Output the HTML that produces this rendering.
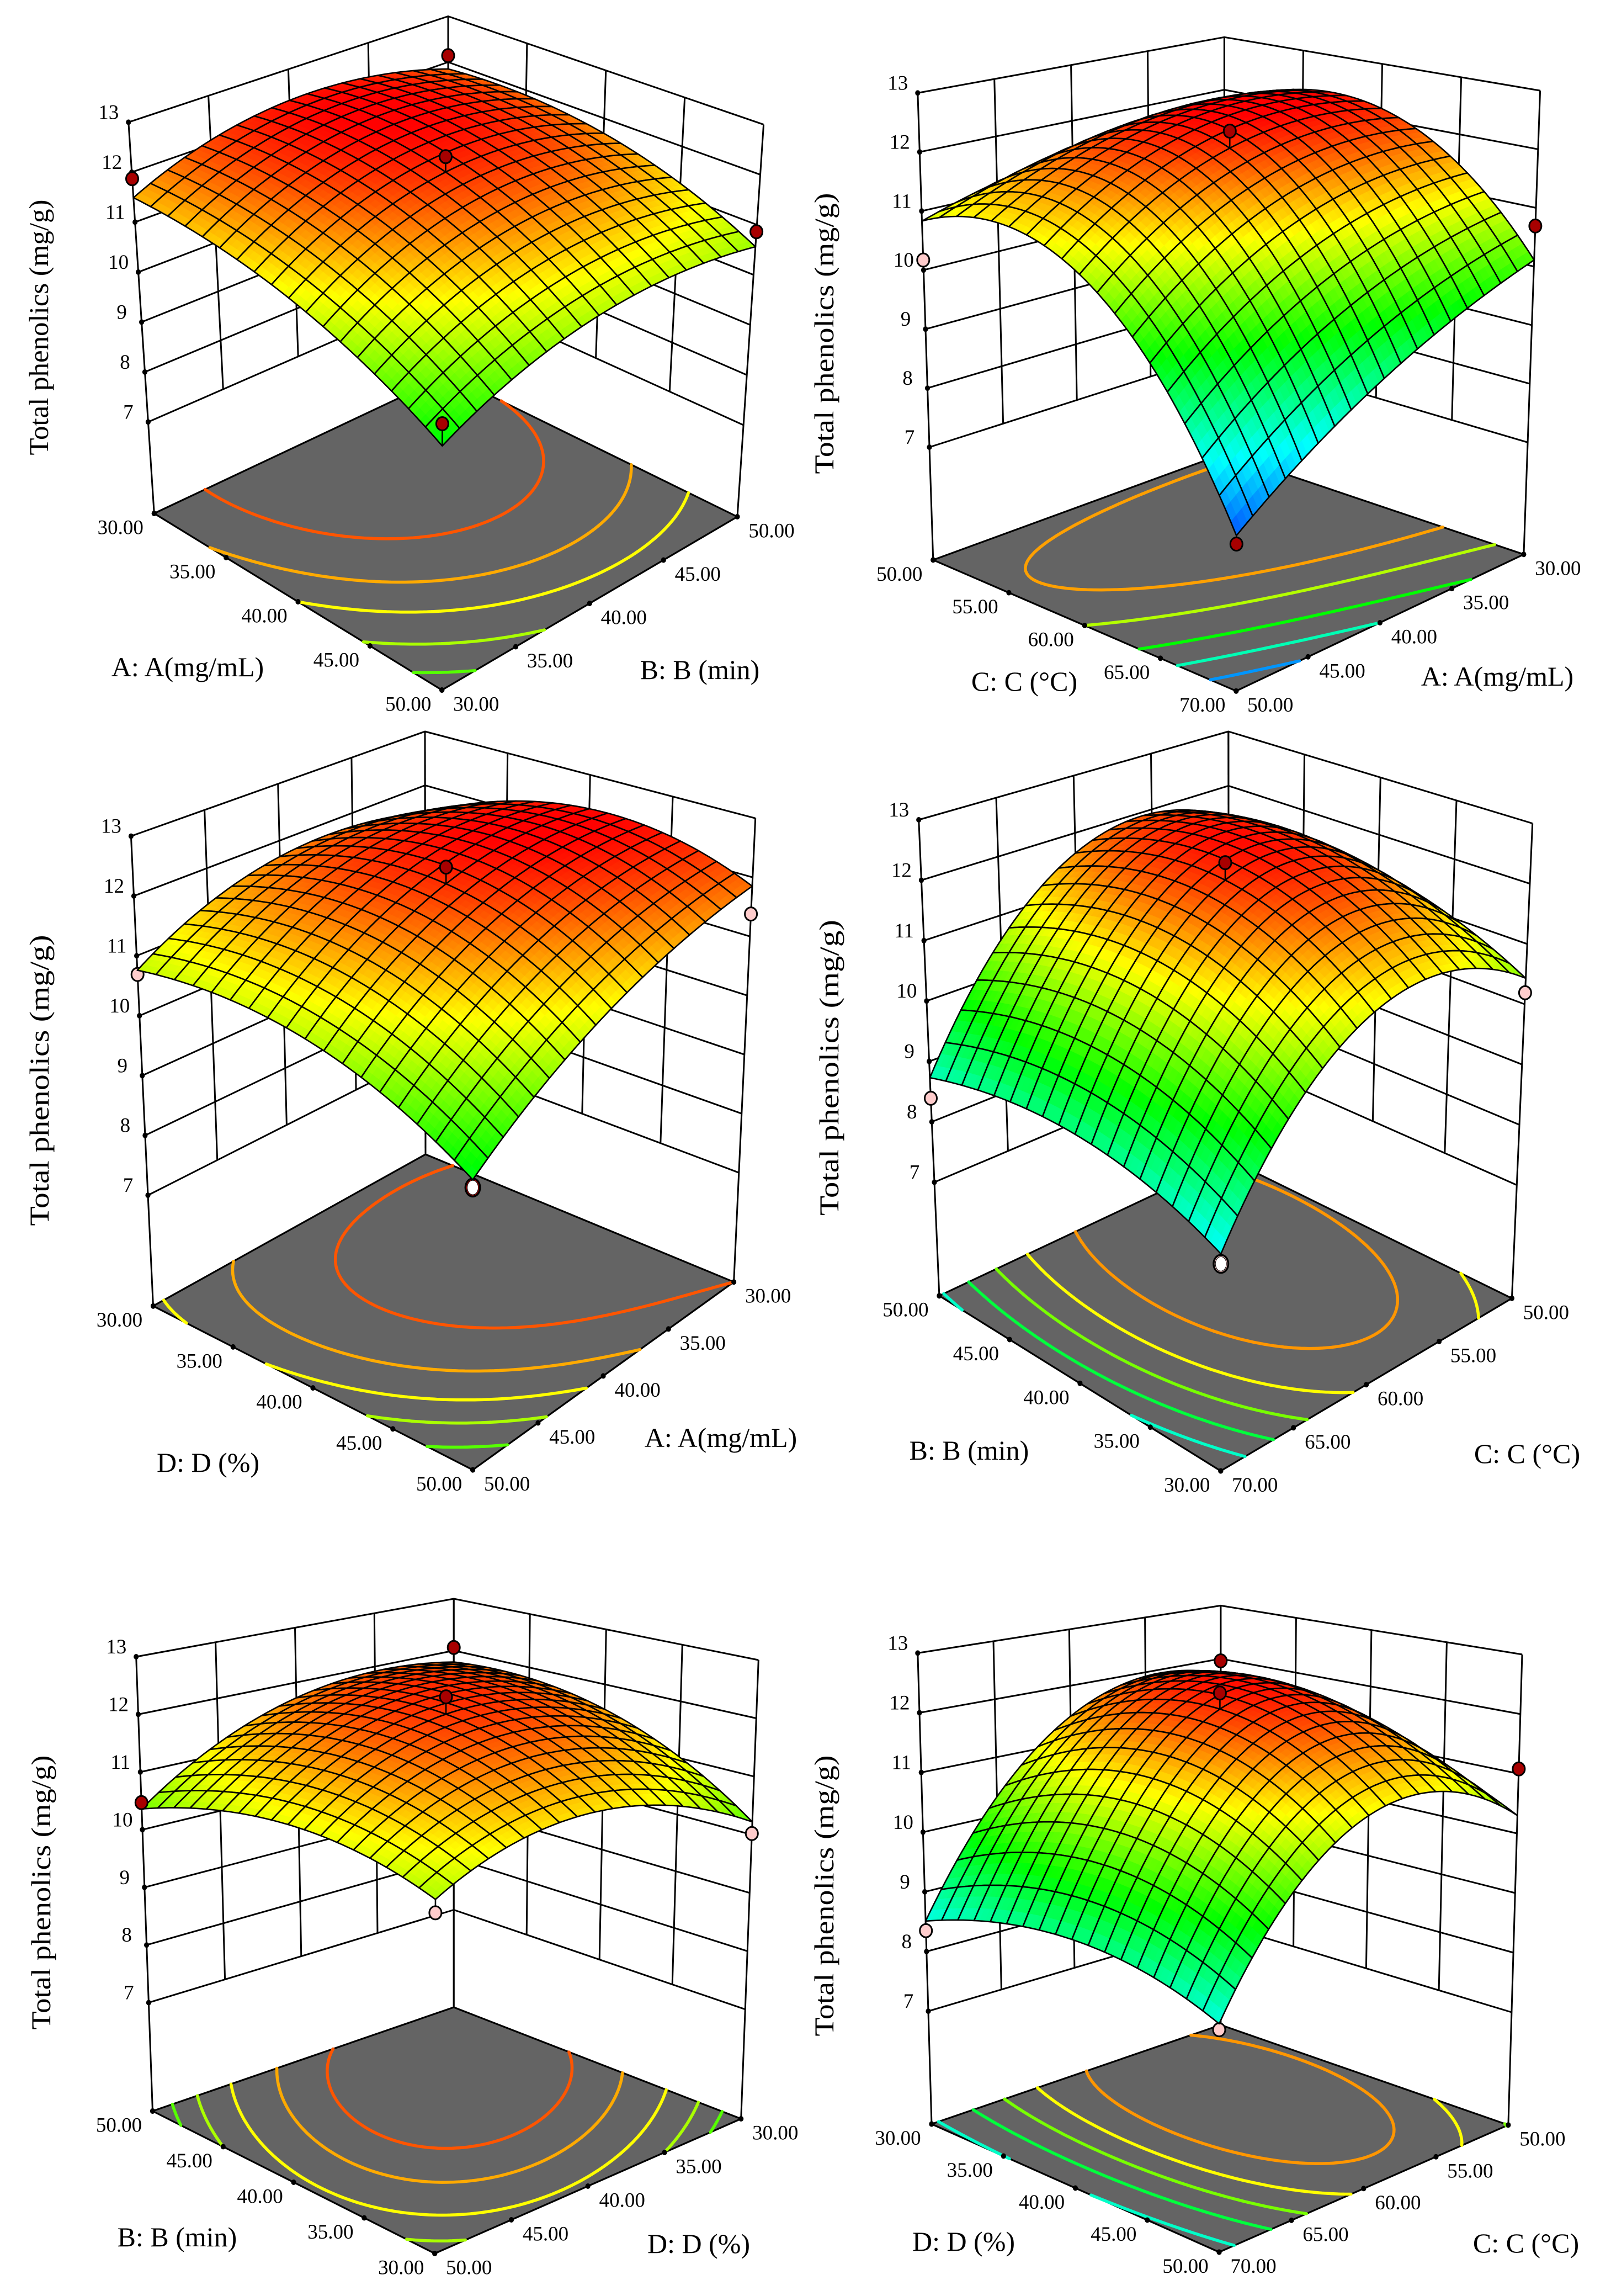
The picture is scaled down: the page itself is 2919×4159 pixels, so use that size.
<!DOCTYPE html>
<html lang="en">
<head>
<meta charset="utf-8">
<title>Total phenolics response surfaces</title>
<style>
html,body{margin:0;padding:0;background:#fff}
svg{display:block}
text{font-family:"Liberation Serif",serif;fill:#000}
.t{font-size:50px;text-anchor:middle}
</style>
</head>
<body>
<svg id="figure" xmlns="http://www.w3.org/2000/svg" width="2919" height="4159" viewBox="0 0 2919 4159">
<rect width="2919" height="4159" fill="#fff"/>
<g id="plots"></g>
<g>
<text class="t" x="72" y="608" textLength="463" lengthAdjust="spacingAndGlyphs" transform="rotate(-90 72 593)">Total phenolics (mg/g)</text>
<text class="t" x="340" y="1225">A: A(mg/mL)</text>
<text class="t" x="1268" y="1230">B: B (min)</text>
<text class="t" x="1495" y="619" textLength="509" lengthAdjust="spacingAndGlyphs" transform="rotate(-90 1495 604)">Total phenolics (mg/g)</text>
<text class="t" x="1856" y="1251">C: C (°C)</text>
<text class="t" x="2713" y="1242">A: A(mg/mL)</text>
<text class="t" x="73" y="1972" textLength="527" lengthAdjust="spacingAndGlyphs" transform="rotate(-90 73 1957)">Total phenolics (mg/g)</text>
<text class="t" x="377" y="2666">D: D (%)</text>
<text class="t" x="1306" y="2621">A: A(mg/mL)</text>
<text class="t" x="1504" y="1949" textLength="536" lengthAdjust="spacingAndGlyphs" transform="rotate(-90 1504 1934)">Total phenolics (mg/g)</text>
<text class="t" x="1756" y="2644">B: B (min)</text>
<text class="t" x="2767" y="2650">C: C (°C)</text>
<text class="t" x="76" y="3443" textLength="497" lengthAdjust="spacingAndGlyphs" transform="rotate(-90 76 3428)">Total phenolics (mg/g)</text>
<text class="t" x="321" y="4069">B: B (min)</text>
<text class="t" x="1266" y="4081">D: D (%)</text>
<text class="t" x="1495" y="3449" textLength="509" lengthAdjust="spacingAndGlyphs" transform="rotate(-90 1495 3434)">Total phenolics (mg/g)</text>
<text class="t" x="1746" y="4077">D: D (%)</text>
<text class="t" x="2765" y="4080">C: C (°C)</text>
</g>
</svg>
<script>
// ---------- chart data ----------
const zTicks = [7, 8, 9, 10, 11, 12, 13];
const zTickLabels = ['7', '8', '9', '10', '11', '12', '13'];

const panel1LeftTicks = ['30.00', '35.00', '40.00', '45.00', '50.00'];
const panel1RightTicks = ['30.00', '35.00', '40.00', '45.00', '50.00'];
const panel2LeftTicks = ['50.00', '55.00', '60.00', '65.00', '70.00'];
const panel2RightTicks = ['50.00', '45.00', '40.00', '35.00', '30.00'];
const panel3LeftTicks = ['30.00', '35.00', '40.00', '45.00', '50.00'];
const panel3RightTicks = ['50.00', '45.00', '40.00', '35.00', '30.00'];
const panel4LeftTicks = ['50.00', '45.00', '40.00', '35.00', '30.00'];
const panel4RightTicks = ['70.00', '65.00', '60.00', '55.00', '50.00'];
const panel5LeftTicks = ['50.00', '45.00', '40.00', '35.00', '30.00'];
const panel5RightTicks = ['50.00', '45.00', '40.00', '35.00', '30.00'];
const panel6LeftTicks = ['30.00', '35.00', '40.00', '45.00', '50.00'];
const panel6RightTicks = ['70.00', '65.00', '60.00', '55.00', '50.00'];

// response read at low / mid / high of each factor (rows: left axis, columns: right axis)
const panel1Surface = [[11.49, 12.35, 11.85], [11.00, 12.20, 11.69], [9.67, 10.69, 10.56]];
const panel2Surface = [[10.83, 11.48, 11.72], [10.75, 12.17, 12.20], [7.48, 9.04, 10.11]];
const panel3Surface = [[10.76, 11.72, 11.50], [10.74, 12.20, 12.40], [9.61, 11.07, 11.85]];
const panel4Surface = [[8.73, 11.65, 11.42], [9.05, 12.18, 11.37], [8.39, 11.00, 10.43]];
const panel5Surface = [[10.36, 11.72, 11.78], [11.00, 12.17, 11.55], [10.65, 11.24, 10.22]];
const panel6Surface = [[8.51, 11.46, 11.72], [9.06, 12.19, 11.31], [8.56, 11.04, 10.30]];

const panel1Floor = [[11.49, 12.19, 11.85], [11.00, 11.92, 11.60], [9.67, 10.69, 10.56]];
const panel2Floor = [[10.60, 10.85, 10.90], [10.50, 11.20, 11.40], [7.48, 9.00, 10.11]];
const panel3Floor = [[10.70, 11.35, 11.45], [10.66, 11.75, 11.95], [9.67, 10.90, 11.60]];
const panel4Floor = [[8.73, 10.45, 10.30], [8.92, 10.60, 10.28], [8.39, 10.07, 9.75]];
const panel5Floor = [[9.99, 11.15, 11.30], [10.64, 11.39, 11.15], [10.29, 10.64, 9.99]];
const panel6Floor = [[8.64, 10.30, 10.18], [8.77, 10.50, 10.22], [8.50, 10.09, 9.68]];

const panel1Levels = [11.85, 11.4, 11.0, 10.5, 10.0];
const panel2Levels = [11.03, 10.5, 9.75, 9.0, 8.2];
const panel3Levels = [11.6, 11.15, 10.77, 10.43, 10.05];
const panel4Levels = [10.4, 10.0, 9.63, 9.23, 8.81];
const panel5Levels = [11.26, 11.02, 10.72, 10.44, 10.2];
const panel6Levels = [10.35, 10.03, 9.7, 9.3, 8.76];

// contour stroke colours, inner to outer
const warmContourColors = ['#ff5500', '#ffaa00', '#ffff00', '#aaff00', '#55ff00'];
const coolContourColors = ['#ffa000', '#b4ff00', '#00ff00', '#00ffb4', '#0096ff'];
const midContourColors = ['#ff9600', '#ffff00', '#78ff00', '#00ff3c', '#00ffc8'];

// design points: left-axis fraction, right-axis fraction, response, kind
const panel1Points = [[0, 1, 12.14, 'above'], [0, 0, 11.87, 'above'], [1, 1, 10.86, 'above'], [1, 0, 10.08, 'above'], [0.5, 0.5, 12.51, 'above']];
const panel2Points = [[1, 0, 7.35, 'above'], [0, 0, 10.17, 'below'], [1, 1, 10.69, 'above'], [0.5, 0.5, 12.46, 'above']];
const panel3Points = [[0, 0, 10.69, 'below'], [1, 1, 11.38, 'below'], [1, 0, 9.49, 'ring-red'], [0.5, 0.5, 12.48, 'above']];
const panel4Points = [[0, 0, 8.39, 'below'], [1, 1, 10.19, 'below'], [1, 0, 8.24, 'ring-pink'], [0.5, 0.5, 12.47, 'above']];
const panel5Points = [[0, 1, 12.06, 'above'], [0, 0, 10.47, 'above'], [1, 1, 10.02, 'below'], [1, 0, 10.44, 'below'], [0.5, 0.5, 12.47, 'above']];
const panel6Points = [[0, 1, 11.96, 'above'], [0, 0, 8.35, 'below'], [1, 1, 11.08, 'above'], [1, 0, 8.47, 'below'], [0.5, 0.5, 12.46, 'above']];

// colour ramp anchors of the response scale (blue, cyan, green, yellow, red)
const rampValues = [7.05, 8.4, 9.75, 11.1, 12.45];

// ---------- layout (separate from the data) ----------
const frames = [
  {FL:[279.3,930],FF:[800.7,1250],FR:[1336,936],FB:[812,679],TL:[232.8,221.4],TB:[812,29.5],TR:[1383.6,225.6],zf:5.17},
  {FL:[1690.8,1014.3],FF:[2239.8,1251.7],FR:[2760.9,1004.2],FB:[2218.4,821.5],TL:[1662.8,168.4],TB:[2218.4,67.3],TR:[2790.6,164.1],zf:5.09},
  {FL:[277.5,2365.7],FF:[856.6,2662.6],FR:[1329.6,2322.2],FB:[771,2091],TL:[237.4,1514.6],TB:[770,1325],TR:[1368.7,1482.2],zf:5.15},
  {FL:[1701.9,2347.2],FF:[2211.8,2664.5],FR:[2739.4,2351.8],FB:[2226.7,2100.2],TL:[1664.7,1485],TB:[2225.8,1325],TR:[2776.7,1491.5],zf:5.12},
  {FL:[276.5,3824],FF:[787.7,4082],FR:[1342.7,3838],FB:[822.2,3636],TL:[246.7,3001],TB:[822.2,2896],TR:[1374.3,3007],zf:5.12},
  {FL:[1688,3847.5],FF:[2209,4079.5],FR:[2732.9,3849.2],FB:[2211.8,3668],TL:[1662.8,2994.4],TB:[2211.8,2908.4],TR:[2758,2996.9],zf:5.11}
];
const panels = [
  {surface:panel1Surface,floor:panel1Floor,levels:panel1Levels,colors:warmContourColors,points:panel1Points,left:panel1LeftTicks,right:panel1RightTicks},
  {surface:panel2Surface,floor:panel2Floor,levels:panel2Levels,colors:coolContourColors,points:panel2Points,left:panel2LeftTicks,right:panel2RightTicks},
  {surface:panel3Surface,floor:panel3Floor,levels:panel3Levels,colors:warmContourColors,points:panel3Points,left:panel3LeftTicks,right:panel3RightTicks},
  {surface:panel4Surface,floor:panel4Floor,levels:panel4Levels,colors:midContourColors,points:panel4Points,left:panel4LeftTicks,right:panel4RightTicks},
  {surface:panel5Surface,floor:panel5Floor,levels:panel5Levels,colors:warmContourColors,points:panel5Points,left:panel5LeftTicks,right:panel5RightTicks},
  {surface:panel6Surface,floor:panel6Floor,levels:panel6Levels,colors:midContourColors,points:panel6Points,left:panel6LeftTicks,right:panel6RightTicks}
];
const MESH = 18, SUB = 3, CONTOUR_GRID = 80;
const SVGNS = 'http://www.w3.org/2000/svg';
const rampColors = [[0,0,255],[0,255,255],[0,255,0],[255,255,0],[255,0,0]];

function make(tag, parent) {
  const el = document.createElementNS(SVGNS, tag);
  parent.appendChild(el);
  return el;
}
function fmt(p) { return p[0].toFixed(1) + ' ' + p[1].toFixed(1); }
function colorOf(z) {
  const v = rampValues;
  if (z <= v[0]) return 'rgb(0,0,255)';
  if (z >= v[4]) return 'rgb(255,0,0)';
  let i = 0;
  while (z > v[i + 1]) i++;
  const f = (z - v[i]) / (v[i + 1] - v[i]);
  const a = rampColors[i], b = rampColors[i + 1];
  return 'rgb(' + Math.round(a[0] + (b[0] - a[0]) * f) + ',' + Math.round(a[1] + (b[1] - a[1]) * f) + ',' + Math.round(a[2] + (b[2] - a[2]) * f) + ')';
}
function basis(u) {
  return [2 * (u - 0.5) * (u - 1), -4 * u * (u - 1), 2 * u * (u - 0.5)];
}
function responseAt(G, s, t) {
  const a = basis(s), b = basis(t);
  let z = 0;
  for (let i = 0; i < 3; i++) for (let j = 0; j < 3; j++) z += G[i][j] * a[i] * b[j];
  return z;
}
function projector(f) {
  const vL = [f.TL[0] - f.FL[0], f.TL[1] - f.FL[1]];
  const vR = [f.TR[0] - f.FR[0], f.TR[1] - f.FR[1]];
  const vB = [f.TB[0] - f.FB[0], f.TB[1] - f.FB[1]];
  const vF = [vL[0] + vR[0] - vB[0], vL[1] + vR[1] - vB[1]];
  const span = 13 - f.zf;
  return function (s, t, z) {
    const w00 = (1 - s) * (1 - t), w10 = s * (1 - t), w11 = s * t, w01 = (1 - s) * t;
    const k = (z - f.zf) / span;
    return [
      w00 * f.FL[0] + w10 * f.FF[0] + w11 * f.FR[0] + w01 * f.FB[0] + k * (w00 * vL[0] + w10 * vF[0] + w11 * vR[0] + w01 * vB[0]),
      w00 * f.FL[1] + w10 * f.FF[1] + w11 * f.FR[1] + w01 * f.FB[1] + k * (w00 * vL[1] + w10 * vF[1] + w11 * vR[1] + w01 * vB[1])
    ];
  };
}
function drawLine(parent, pts, width, name) {
  const el = make('path', parent);
  
  
  el.setAttribute('d', 'M' + pts.map(fmt).join('L'));
  el.setAttribute('fill', 'none');
  el.setAttribute('stroke', '#000');
  el.setAttribute('stroke-width', width);
  el.setAttribute('stroke-linejoin', 'round');
}
function drawWalls(g, P, f) {
  zTicks.forEach(function (z) {
    drawLine(g, [P(0, 0, z), P(0, 1, z), P(1, 1, z)], 3, 'wall-gridline-z-' + z);
  });
  for (let k = 0; k <= 4; k++) {
    const edge = k === 0 || k === 4;
    const zb = edge ? f.zf : zTicks[0];
    drawLine(g, [P(0, k / 4, zb), P(0, k / 4, 13)], 3, 'left-wall-gridline');
    drawLine(g, [P(k / 4, 1, zb), P(k / 4, 1, 13)], 3, 'right-wall-gridline');
  }
}
function drawFloor(g, f) {
  const el = make('polygon', g);
  
  
  el.setAttribute('points', [f.FL, f.FF, f.FR, f.FB].map(function (p) { return p[0] + ',' + p[1]; }).join(' '));
  el.setAttribute('fill', '#646464');
  el.setAttribute('stroke', '#000');
  el.setAttribute('stroke-width', 3.2);
  el.setAttribute('stroke-linejoin', 'round');
}
function drawContour(g, P, G, level, color, f) {
  const n = CONTOUR_GRID;
  const val = [];
  for (let i = 0; i <= n; i++) {
    val.push([]);
    for (let j = 0; j <= n; j++) val[i].push(responseAt(G, i / n, j / n));
  }
  let d = '';
  function cross(a, b, sa, ta, sb, tb) {
    const u = (level - a) / (b - a);
    return P(sa + (sb - sa) * u, ta + (tb - ta) * u, f.zf);
  }
  for (let i = 0; i < n; i++) {
    for (let j = 0; j < n; j++) {
      const s0 = i / n, s1 = (i + 1) / n, t0 = j / n, t1 = (j + 1) / n;
      const a = val[i][j], b = val[i + 1][j], c = val[i + 1][j + 1], e = val[i][j + 1];
      const hits = [];
      if ((a < level) !== (b < level)) hits.push(cross(a, b, s0, t0, s1, t0));
      if ((b < level) !== (c < level)) hits.push(cross(b, c, s1, t0, s1, t1));
      if ((c < level) !== (e < level)) hits.push(cross(c, e, s1, t1, s0, t1));
      if ((e < level) !== (a < level)) hits.push(cross(e, a, s0, t1, s0, t0));
      for (let h = 0; h + 1 < hits.length; h += 2) d += 'M' + fmt(hits[h]) + 'L' + fmt(hits[h + 1]);
    }
  }
  if (!d) return;
  const el = make('path', g);
  
  
  el.setAttribute('d', d);
  el.setAttribute('fill', 'none');
  el.setAttribute('stroke', color);
  el.setAttribute('stroke-width', 5.5);
  el.setAttribute('stroke-linecap', 'round');
}
function drawSurface(g, P, G) {
  const step = 1 / MESH, sub = step / SUB;
  for (let i = 0; i < MESH; i++) {
    for (let j = MESH - 1; j >= 0; j--) {
      const s0 = i * step, t0 = j * step;
      const cell = make('g', g);
      
      
      for (let a = 0; a < SUB; a++) {
        for (let b = SUB - 1; b >= 0; b--) {
          const s1 = s0 + a * sub, t1 = t0 + b * sub, s2 = s1 + sub, t2 = t1 + sub;
          const q = make('path', cell);
          
          
          const col = colorOf(responseAt(G, (s1 + s2) / 2, (t1 + t2) / 2));
          q.setAttribute('d', 'M' + [[s1, t1], [s2, t1], [s2, t2], [s1, t2]].map(function (c) {
            return fmt(P(c[0], c[1], responseAt(G, c[0], c[1])));
          }).join('L') + 'Z');
          q.setAttribute('fill', col);
          q.setAttribute('stroke', col);
          q.setAttribute('stroke-width', 0.7);
        }
      }
      const ring = [];
      for (let a = 0; a < SUB; a++) ring.push([s0 + a * sub, t0]);
      for (let b = 0; b < SUB; b++) ring.push([s0 + step, t0 + b * sub]);
      for (let a = 0; a < SUB; a++) ring.push([s0 + step - a * sub, t0 + step]);
      for (let b = 0; b < SUB; b++) ring.push([s0, t0 + step - b * sub]);
      const o = make('path', cell);
      
      
      o.setAttribute('d', 'M' + ring.map(function (c) {
        return fmt(P(c[0], c[1], responseAt(G, c[0], c[1])));
      }).join('L') + 'Z');
      o.setAttribute('fill', 'none');
      o.setAttribute('stroke', '#000');
      o.setAttribute('stroke-width', 2.6);
      o.setAttribute('stroke-linejoin', 'round');
    }
  }
}
function drawEllipse(g, c, rx, ry, fill, stroke, name) {
  const el = make('ellipse', g);
  
  
  el.setAttribute('cx', c[0].toFixed(1));
  el.setAttribute('cy', c[1].toFixed(1));
  el.setAttribute('rx', rx);
  el.setAttribute('ry', ry);
  el.setAttribute('fill', fill);
  if (stroke) {
    el.setAttribute('stroke', '#000');
    el.setAttribute('stroke-width', 3);
  }
}
function drawPoint(g, P, G, pt) {
  const s = pt[0], t = pt[1], z = pt[2], kind = pt[3];
  const c = P(s, t, z);
  drawLine(g, [c, P(s, t, responseAt(G, s, t))], 2.6, 'design-point-stem');
  if (kind === 'above') {
    drawEllipse(g, c, 11, 12, '#a80000', true, 'design-point-above-surface');
  } else if (kind === 'below') {
    drawEllipse(g, c, 11, 12, '#ffcccc', true, 'design-point-below-surface');
  } else {
    drawEllipse(g, c, 15, 18, '#000', false, 'replicate-point-outer');
    drawEllipse(g, c, 11.5, 14.5, kind === 'ring-red' ? '#c00000' : '#ffcccc', false, 'replicate-point-ring');
    drawEllipse(g, c, 10.5, 13.5, '#000', false, 'replicate-point-gap');
    drawEllipse(g, c, 9.5, 12.5, '#fff', false, 'replicate-point-center');
  }
}
function drawTickDot(g, c) {
  drawEllipse(g, c, 4.6, 5, '#000', false, 'axis-tick-mark');
}
function drawLabel(g, c, str, name) {
  const el = make('text', g);
  
  
  el.setAttribute('x', c[0].toFixed(1));
  el.setAttribute('y', (c[1] + 12.5).toFixed(1));
  el.setAttribute('text-anchor', 'middle');
  el.setAttribute('font-size', '37');
  el.textContent = str;
}
function drawAxes(g, P, f, panel) {
  zTicks.forEach(function (z, i) {
    const c = P(0, 0, z);
    drawTickDot(g, c);
    drawLabel(g, [c[0] - 36, c[1] - 18.5], zTickLabels[i], 'z-axis-tick-label');
  });
  drawTickDot(g, f.FL);
  panel.left.forEach(function (lab, k) {
    const c = P(k / 4, 0, f.zf);
    drawTickDot(g, c);
    drawLabel(g, [c[0] - 61, c[1] + 25], lab, 'left-axis-tick-label');
  });
  panel.right.forEach(function (lab, k) {
    const c = P(1, k / 4, f.zf);
    drawTickDot(g, c);
    drawLabel(g, [c[0] + 62, c[1] + 25], lab, 'right-axis-tick-label');
  });
}
const root = document.getElementById('plots');
panels.forEach(function (panel, idx) {
  const f = frames[idx];
  const P = projector(f);
  const g = make('g', root);
  
  
  drawWalls(g, P, f);
  drawFloor(g, f);
  panel.levels.forEach(function (lv, n) { drawContour(g, P, panel.floor, lv, panel.colors[n], f); });
  drawAxes(g, P, f, panel);
  panel.points.filter(function (p) { return p[3] !== 'above'; }).forEach(function (p) { drawPoint(g, P, panel.surface, p); });
  drawSurface(g, P, panel.surface);
  panel.points.filter(function (p) { return p[3] === 'above'; }).forEach(function (p) { drawPoint(g, P, panel.surface, p); });
});
</script>
</body>
</html>
